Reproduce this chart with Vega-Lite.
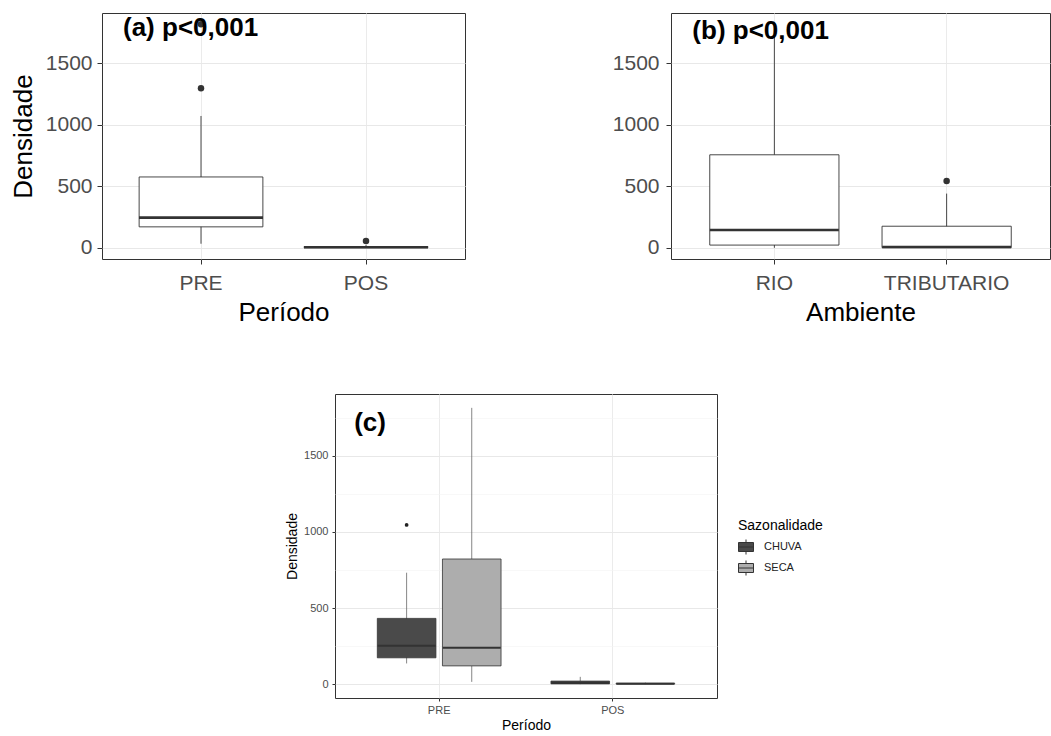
{
  "$schema": "https://vega.github.io/schema/vega-lite/v6.json",
  "background": "white",
  "padding": {"left": 9, "top": 12, "right": 0, "bottom": 0},
  "config": {
    "font": "Liberation Sans",
    "view": {"stroke": "#333333", "strokeWidth": 1}
  },
  "datasets": {
    "a_box": [
      {"Periodo": "PRE", "lower": 33, "q1": 170, "median": 245, "q3": 575, "upper": 1070},
      {"Periodo": "POS", "lower": 0, "q1": 1, "median": 4, "q3": 10, "upper": 22}
    ],
    "a_out": [
      {"Periodo": "PRE", "Densidade": 1295},
      {"Periodo": "PRE", "Densidade": 1815},
      {"Periodo": "POS", "Densidade": 55}
    ],
    "b_box": [
      {"Ambiente": "RIO", "lower": 0, "q1": 22, "median": 145, "q3": 755, "upper": 1815},
      {"Ambiente": "TRIBUTARIO", "lower": 0, "q1": 1, "median": 6, "q3": 175, "upper": 440}
    ],
    "b_out": [
      {"Ambiente": "TRIBUTARIO", "Densidade": 542}
    ],
    "c_box": [
      {"Periodo": "PRE", "Sazonalidade": "CHUVA", "lower": 136, "q1": 173, "median": 252, "q3": 432, "upper": 732},
      {"Periodo": "PRE", "Sazonalidade": "SECA", "lower": 15, "q1": 120, "median": 239, "q3": 822, "upper": 1815},
      {"Periodo": "POS", "Sazonalidade": "CHUVA", "lower": 0, "q1": 2, "median": 8, "q3": 20, "upper": 48},
      {"Periodo": "POS", "Sazonalidade": "SECA", "lower": 0, "q1": 1, "median": 3, "q3": 6, "upper": 10}
    ],
    "c_out": [
      {"Periodo": "PRE", "Sazonalidade": "CHUVA", "Densidade": 1046}
    ],
    "labels": [
      {"panel": "a", "Periodo": "PRE", "Densidade": 1783, "label": "(a) p<0,001"},
      {"panel": "b", "Ambiente": "RIO", "Densidade": 1760, "label": "(b) p<0,001"},
      {"panel": "c", "Periodo": "PRE", "Densidade": 1715, "label": "(c)"}
    ]
  },
  "spacing": 62,
  "vconcat": [
    {
      "spacing": 145,
      "hconcat": [
        {
          "width": 363,
          "height": 246,
          "layer": [
            {
              "data": {"name": "a_box"},
              "mark": {"type": "rule", "color": "#333333", "strokeWidth": 0.9},
              "encoding": {
                "x": {"field": "Periodo", "type": "nominal", "sort": ["PRE", "POS"],
                  "scale": {"type": "band", "paddingInner": 0, "paddingOuter": 0.1},
                  "axis": {"title": "Período", "labelAngle": 0, "labelFontSize": 21, "titleFontSize": 26, "labelColor": "#4d4d4d", "titleColor": "#000000", "titleFontWeight": "normal", "tickColor": "#333333", "tickSize": 5, "labelPadding": 8, "titlePadding": 6, "domain": false, "grid": true, "gridColor": "#ebebeb", "gridWidth": 1, "bandPosition": 0.5}},
                "y": {"field": "lower", "type": "quantitative",
                  "scale": {"domain": [-91, 1906], "nice": false, "zero": false},
                  "axis": {"title": "Densidade", "values": [0, 250, 500, 750, 1000, 1250, 1500, 1750], "format": "d",
                    "labelExpr": "datum.value % 500 === 0 ? datum.label : ''",
                    "tickOpacity": {"condition": {"test": "datum.value % 500 === 0", "value": 1}, "value": 0},
                    "gridColor": {"condition": {"test": "datum.value % 500 === 0", "value": "#e8e8e8"}, "value": "#f3f3f3"},
                    "gridWidth": {"condition": {"test": "datum.value % 500 === 0", "value": 1.2}, "value": 0.7},
                    "labelFontSize": 21, "titleFontSize": 26, "labelColor": "#4d4d4d", "titleColor": "#000000", "titleFontWeight": "normal", "tickColor": "#333333", "tickSize": 5, "labelPadding": 5, "titlePadding": 9, "domain": false}},
                "y2": {"field": "upper"}
              }
            },
            {
              "data": {"name": "a_box"},
              "mark": {"type": "bar", "fill": "white", "stroke": "#333333", "strokeWidth": 0.9, "width": {"band": 0.75}},
              "encoding": {
                "x": {"field": "Periodo", "type": "nominal", "sort": ["PRE", "POS"]},
                "y": {"field": "q1", "type": "quantitative", "title": "Densidade"},
                "y2": {"field": "q3"}
              }
            },
            {
              "data": {"name": "a_box"},
              "mark": {"type": "tick", "color": "#333333", "opacity": 1, "size": 124, "thickness": 2.6, "orient": "horizontal"},
              "encoding": {
                "x": {"field": "Periodo", "type": "nominal", "sort": ["PRE", "POS"]},
                "y": {"field": "median", "type": "quantitative", "title": "Densidade"}
              }
            },
            {
              "data": {"name": "a_out"},
              "mark": {"type": "point", "filled": true, "color": "#333333", "opacity": 1, "size": 42},
              "encoding": {
                "x": {"field": "Periodo", "type": "nominal", "sort": ["PRE", "POS"]},
                "y": {"field": "Densidade", "type": "quantitative", "title": "Densidade"}
              }
            },
            {
              "data": {"name": "labels"},
              "transform": [{"filter": "datum.panel === 'a'"}],
              "mark": {"type": "text", "align": "left", "baseline": "middle", "dx": -78, "fontSize": 26, "fontWeight": "bold", "color": "#000000"},
              "encoding": {
                "x": {"field": "Periodo", "type": "nominal", "sort": ["PRE", "POS"]},
                "y": {"field": "Densidade", "type": "quantitative", "title": "Densidade"},
                "text": {"field": "label"}
              }
            }
          ]
        },
        {
          "width": 379,
          "height": 246,
          "layer": [
            {
              "data": {"name": "b_box"},
              "mark": {"type": "rule", "color": "#333333", "strokeWidth": 0.9},
              "encoding": {
                "x": {"field": "Ambiente", "type": "nominal", "sort": ["RIO", "TRIBUTARIO"],
                  "scale": {"type": "band", "paddingInner": 0, "paddingOuter": 0.1},
                  "axis": {"title": "Ambiente", "labelAngle": 0, "labelFontSize": 21, "titleFontSize": 26, "labelColor": "#4d4d4d", "titleColor": "#000000", "titleFontWeight": "normal", "tickColor": "#333333", "tickSize": 5, "labelPadding": 8, "titlePadding": 6, "domain": false, "grid": true, "gridColor": "#ebebeb", "gridWidth": 1, "bandPosition": 0.5}},
                "y": {"field": "lower", "type": "quantitative",
                  "scale": {"domain": [-91, 1906], "nice": false, "zero": false},
                  "axis": {"title": null, "values": [0, 250, 500, 750, 1000, 1250, 1500, 1750], "format": "d",
                    "labelExpr": "datum.value % 500 === 0 ? datum.label : ''",
                    "tickOpacity": {"condition": {"test": "datum.value % 500 === 0", "value": 1}, "value": 0},
                    "gridColor": {"condition": {"test": "datum.value % 500 === 0", "value": "#e8e8e8"}, "value": "#f3f3f3"},
                    "gridWidth": {"condition": {"test": "datum.value % 500 === 0", "value": 1.2}, "value": 0.7},
                    "labelFontSize": 21, "labelColor": "#4d4d4d", "tickColor": "#333333", "tickSize": 5, "labelPadding": 7, "domain": false}},
                "y2": {"field": "upper"}
              }
            },
            {
              "data": {"name": "b_box"},
              "mark": {"type": "bar", "fill": "white", "stroke": "#333333", "strokeWidth": 0.9, "width": {"band": 0.75}},
              "encoding": {
                "x": {"field": "Ambiente", "type": "nominal", "sort": ["RIO", "TRIBUTARIO"]},
                "y": {"field": "q1", "type": "quantitative", "title": null},
                "y2": {"field": "q3"}
              }
            },
            {
              "data": {"name": "b_box"},
              "mark": {"type": "tick", "color": "#333333", "opacity": 1, "size": 129, "thickness": 2.6, "orient": "horizontal"},
              "encoding": {
                "x": {"field": "Ambiente", "type": "nominal", "sort": ["RIO", "TRIBUTARIO"]},
                "y": {"field": "median", "type": "quantitative", "title": null}
              }
            },
            {
              "data": {"name": "b_out"},
              "mark": {"type": "point", "filled": true, "color": "#333333", "opacity": 1, "size": 42},
              "encoding": {
                "x": {"field": "Ambiente", "type": "nominal", "sort": ["RIO", "TRIBUTARIO"]},
                "y": {"field": "Densidade", "type": "quantitative", "title": null}
              }
            },
            {
              "data": {"name": "labels"},
              "transform": [{"filter": "datum.panel === 'b'"}],
              "mark": {"type": "text", "align": "left", "baseline": "middle", "dx": -82, "fontSize": 26, "fontWeight": "bold", "color": "#000000"},
              "encoding": {
                "x": {"field": "Ambiente", "type": "nominal", "sort": ["RIO", "TRIBUTARIO"]},
                "y": {"field": "Densidade", "type": "quantitative", "title": null},
                "text": {"field": "label"}
              }
            }
          ]
        }
      ]
    },
    {
      "spacing": 0,
      "hconcat": [
        {
          "width": 183,
          "height": 1,
          "view": {"stroke": null},
          "data": {"values": [{}]},
          "mark": {"type": "text", "text": ""},
          "encoding": {}
        },
        {
          "width": 382,
          "height": 304,
          "layer": [
            {
              "data": {"name": "c_box"},
              "mark": {"type": "rule", "color": "#666666", "strokeWidth": 0.8},
              "encoding": {
                "x": {"field": "Periodo", "type": "nominal", "sort": ["PRE", "POS"],
                  "scale": {"type": "band", "paddingInner": 0, "paddingOuter": 0.1},
                  "axis": {"title": "Período", "labelAngle": 0, "labelFontSize": 11, "titleFontSize": 14, "labelColor": "#4d4d4d", "titleColor": "#000000", "titleFontWeight": "normal", "tickColor": "#333333", "tickSize": 3, "labelPadding": 3, "titlePadding": 3, "domain": false, "grid": true, "gridColor": "#ebebeb", "gridWidth": 1, "bandPosition": 0.5}},
                "xOffset": {"field": "Sazonalidade", "type": "nominal", "sort": ["CHUVA", "SECA"],
                  "scale": {"type": "band", "paddingInner": 0.1, "paddingOuter": 0.3833}},
                "y": {"field": "lower", "type": "quantitative",
                  "scale": {"domain": [-91, 1906], "nice": false, "zero": false},
                  "axis": {"title": "Densidade", "values": [0, 250, 500, 750, 1000, 1250, 1500, 1750], "format": "d",
                    "labelExpr": "datum.value % 500 === 0 ? datum.label : ''",
                    "tickOpacity": {"condition": {"test": "datum.value % 500 === 0", "value": 1}, "value": 0},
                    "gridColor": {"condition": {"test": "datum.value % 500 === 0", "value": "#e8e8e8"}, "value": "#f3f3f3"},
                    "gridWidth": {"condition": {"test": "datum.value % 500 === 0", "value": 1}, "value": 0.6},
                    "labelFontSize": 11, "titleFontSize": 14, "labelColor": "#4d4d4d", "titleColor": "#000000", "titleFontWeight": "normal", "tickColor": "#333333", "tickSize": 3, "labelPadding": 4, "titlePadding": 4, "domain": false}},
                "y2": {"field": "upper"}
              }
            },
            {
              "data": {"name": "c_box"},
              "mark": {"type": "bar", "stroke": "#333333", "strokeWidth": 0.8},
              "encoding": {
                "x": {"field": "Periodo", "type": "nominal", "sort": ["PRE", "POS"]},
                "xOffset": {"field": "Sazonalidade", "type": "nominal", "sort": ["CHUVA", "SECA"]},
                "y": {"field": "q1", "type": "quantitative", "title": "Densidade"},
                "y2": {"field": "q3"},
                "fill": {"field": "Sazonalidade", "type": "nominal",
                  "scale": {"domain": ["CHUVA", "SECA"], "range": ["#4a4a4a", "#adadad"]},
                  "legend": {"title": "Sazonalidade", "orient": "none", "legendX": 636, "legendY": 506,
                    "titleFontSize": 14, "titleFontWeight": "normal", "titleColor": "#000000", "titlePadding": 6,
                    "labelFontSize": 11, "labelColor": "#222222", "labelOffset": 10,
                    "symbolType": "M-1,-0.6H1V0.6H-1Z M-1,0H1 M0,-1V-0.6 M0,0.6V1",
                    "symbolSize": 225, "symbolStrokeColor": "#333333", "symbolStrokeWidth": 1, "rowPadding": 1}}
              }
            },
            {
              "data": {"name": "c_box"},
              "mark": {"type": "tick", "color": "#333333", "opacity": 1, "size": 58, "thickness": 2, "orient": "horizontal"},
              "encoding": {
                "x": {"field": "Periodo", "type": "nominal", "sort": ["PRE", "POS"]},
                "xOffset": {"field": "Sazonalidade", "type": "nominal", "sort": ["CHUVA", "SECA"]},
                "y": {"field": "median", "type": "quantitative", "title": "Densidade"}
              }
            },
            {
              "data": {"name": "c_out"},
              "mark": {"type": "point", "filled": true, "color": "#222222", "opacity": 1, "size": 14},
              "encoding": {
                "x": {"field": "Periodo", "type": "nominal", "sort": ["PRE", "POS"]},
                "xOffset": {"field": "Sazonalidade", "type": "nominal", "sort": ["CHUVA", "SECA"]},
                "y": {"field": "Densidade", "type": "quantitative", "title": "Densidade"}
              }
            },
            {
              "data": {"name": "labels"},
              "transform": [{"filter": "datum.panel === 'c'"}],
              "mark": {"type": "text", "align": "left", "baseline": "middle", "dx": -85, "fontSize": 26, "fontWeight": "bold", "color": "#000000"},
              "encoding": {
                "x": {"field": "Periodo", "type": "nominal", "sort": ["PRE", "POS"]},
                "y": {"field": "Densidade", "type": "quantitative", "title": "Densidade"},
                "text": {"field": "label"}
              }
            }
          ]
        }
      ]
    }
  ]
}
